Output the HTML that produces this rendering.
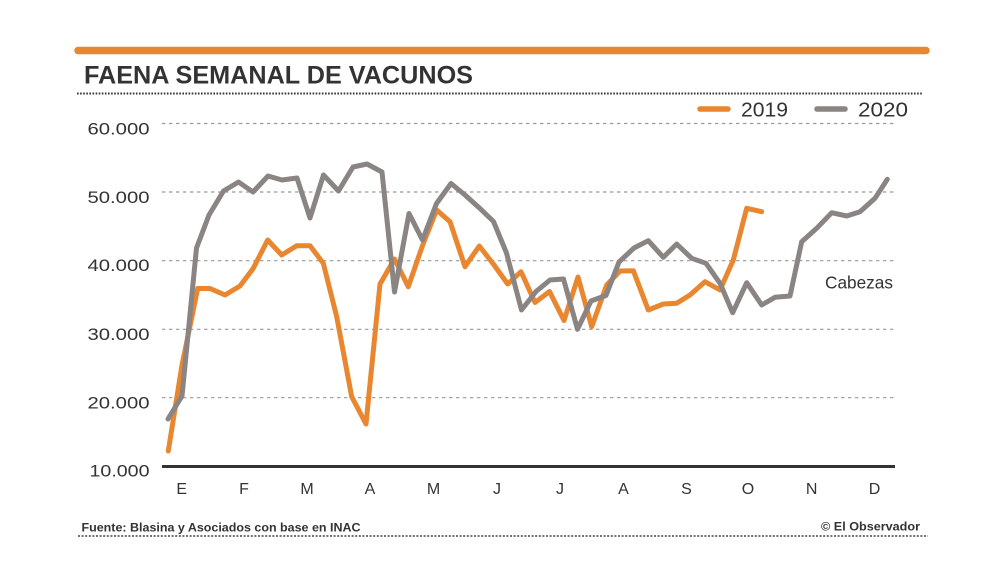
<!DOCTYPE html>
<html>
<head>
<meta charset="utf-8">
<style>
html,body{margin:0;padding:0;background:#ffffff;}
svg{display:block;}
text{font-family:"Liberation Sans",sans-serif;fill:#333333;}
</style>
</head>
<body>
<svg width="1000" height="583" viewBox="0 0 1000 583" xmlns="http://www.w3.org/2000/svg">
<rect width="1000" height="583" fill="#ffffff"/>
<!-- top orange bar -->
<line x1="78" y1="50.5" x2="926" y2="50.5" stroke="#E8872F" stroke-width="7.5" stroke-linecap="round"/>
<!-- title -->
<text x="84" y="83.5" font-size="25" font-weight="bold" textLength="389" lengthAdjust="spacingAndGlyphs" fill="#2e2e2e">FAENA SEMANAL DE VACUNOS</text>
<!-- dotted line under title -->
<line x1="77" y1="93.5" x2="923" y2="93.5" stroke="#333" stroke-width="2" stroke-dasharray="1.6 1.5"/>
<!-- legend -->
<line x1="700" y1="109" x2="728" y2="109" stroke="#E8872F" stroke-width="5.5" stroke-linecap="round"/>
<text x="741" y="116.5" font-size="20" textLength="47" lengthAdjust="spacingAndGlyphs">2019</text>
<line x1="817" y1="109" x2="845" y2="109" stroke="#8A8483" stroke-width="5.5" stroke-linecap="round"/>
<text x="858" y="116.5" font-size="20" textLength="50" lengthAdjust="spacingAndGlyphs">2020</text>
<!-- gridlines -->
<g stroke="#9a9a9a" stroke-width="1.2" stroke-dasharray="3.4 3.6">
<line x1="162" y1="123.5" x2="895" y2="123.5"/>
<line x1="162" y1="192" x2="895" y2="192"/>
<line x1="162" y1="260.7" x2="895" y2="260.7"/>
<line x1="162" y1="329.3" x2="895" y2="329.3"/>
<line x1="162" y1="397.7" x2="895" y2="397.7"/>
</g>
<!-- y labels -->
<g font-size="17" text-anchor="end">
<text x="149.5" y="134.3" textLength="62" lengthAdjust="spacingAndGlyphs">60.000</text>
<text x="149.5" y="203" textLength="62" lengthAdjust="spacingAndGlyphs">50.000</text>
<text x="149.5" y="271" textLength="62" lengthAdjust="spacingAndGlyphs">40.000</text>
<text x="149.5" y="340" textLength="62" lengthAdjust="spacingAndGlyphs">30.000</text>
<text x="149.5" y="408.5" textLength="62" lengthAdjust="spacingAndGlyphs">20.000</text>
<text x="149.5" y="476.6" textLength="60" lengthAdjust="spacingAndGlyphs">10.000</text>
</g>
<!-- Cabezas -->
<text x="825" y="288.5" font-size="17.5" textLength="68" lengthAdjust="spacingAndGlyphs">Cabezas</text>
<!-- series 2019 -->
<polyline fill="none" stroke="#E8872F" stroke-width="5" stroke-linejoin="round" stroke-linecap="round" points="
168.3,451 182,365 197.7,288.5 210,288.5 225,295 240,286 253.3,268.3 267.7,240 281.7,255 296.7,245.7 310,245.7 323.3,263.3 336.7,316.7 351.7,396.7 366,424 380,284 394.5,259 408.3,286.7 422.7,245 436.7,210 450,221.7 465,266.7 479.3,246 493.3,264 507.7,284 521,271.7 535,302.5 549.5,291.5 564,320.5 578,277 591.7,326.7 606.7,285 620,271 633.3,270.7 648.3,310 663.3,304 676.7,303.3 690,295 705,281.7 720,290 733.3,260 746.7,208.3 761.7,211.7"/>
<!-- series 2020 -->
<polyline fill="none" stroke="#8A8483" stroke-width="5" stroke-linejoin="round" stroke-linecap="round" points="
168,419 182,396 196.5,248 209,215 223.5,191 238.5,182 253,192 268,176 282,180 297,178 310,218 323.5,175 338.5,191 353,167 367,164 382,172 394.5,292 409,213.5 422.5,240 436.5,203.5 451,183.5 465,195 480,208.5 493.5,221.5 506.5,253 521.5,310 536,291.5 550,280 563.5,279 577.5,329.3 591,301 606,295.5 619,262 634,248 648.3,240.7 663.3,257.3 676.7,244 691.7,258.3 706,263.3 720,283.3 732.7,312.7 746.7,282.7 761.7,305 775,297.3 790,296 801.7,241.7 816.7,228.3 831.7,212.7 846.7,216 860,211.7 875,198.3 887.3,179.3"/>
<!-- x axis -->
<line x1="162" y1="466.5" x2="895" y2="466.5" stroke="#333" stroke-width="3"/>
<!-- month labels -->
<g font-size="16" text-anchor="middle">
<text x="181.7" y="494">E</text>
<text x="244" y="494">F</text>
<text x="307" y="494">M</text>
<text x="370" y="494">A</text>
<text x="433.5" y="494">M</text>
<text x="497" y="494">J</text>
<text x="560" y="494">J</text>
<text x="623.5" y="494">A</text>
<text x="686.5" y="494">S</text>
<text x="748" y="494">O</text>
<text x="811.7" y="494">N</text>
<text x="874.5" y="494">D</text>
</g>
<!-- footer -->
<text x="81.5" y="531.5" font-size="12" font-weight="bold" textLength="279" lengthAdjust="spacingAndGlyphs" fill="#3a3a3a">Fuente: Blasina y Asociados con base en INAC</text>
<text x="920" y="530.5" font-size="12" font-weight="bold" text-anchor="end" textLength="99" lengthAdjust="spacingAndGlyphs" fill="#3a3a3a">© El Observador</text>
<line x1="78" y1="536" x2="928" y2="536" stroke="#444" stroke-width="1.5" stroke-dasharray="2 1.6"/>
</svg>
</body>
</html>
